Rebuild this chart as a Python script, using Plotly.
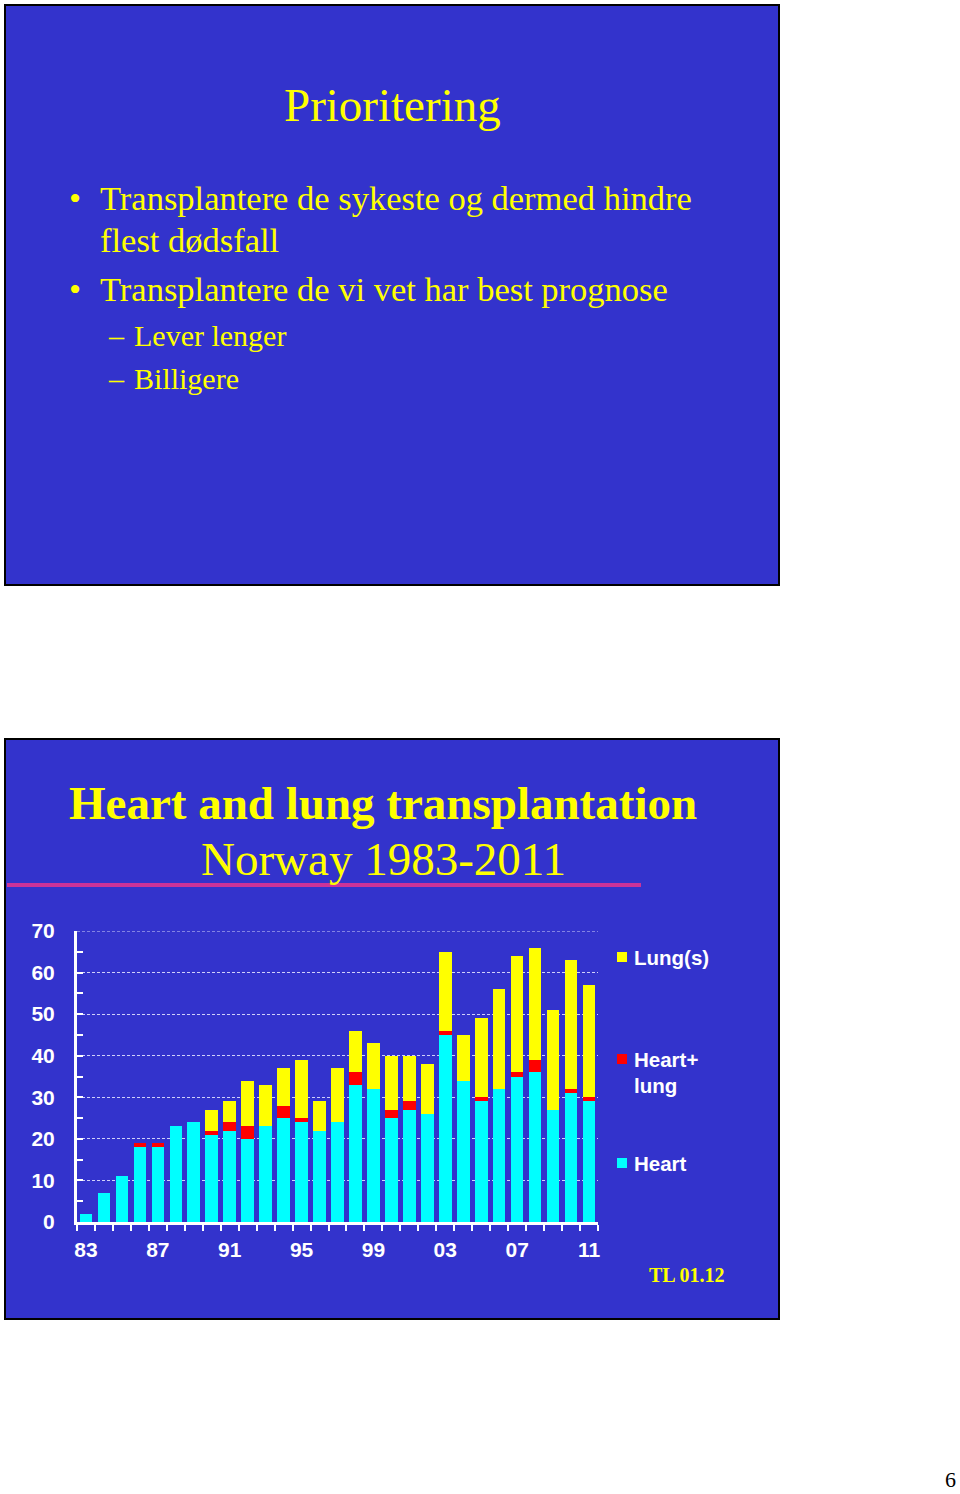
import plotly.graph_objects as go

W, H = 960, 1494

years = list(range(1983, 2012))
heart = [2, 7, 11, 18, 18, 23, 24, 21, 22, 20, 23, 25, 24, 22, 24, 33, 32, 25, 27, 26, 45, 34, 29, 32, 35, 36, 27, 31, 29]
heart_lung = [0, 0, 0, 1, 1, 0, 0, 1, 2, 3, 0, 3, 1, 0, 0, 3, 0, 2, 2, 0, 1, 0, 1, 0, 1, 3, 0, 1, 1]
lungs = [0, 0, 0, 0, 0, 0, 0, 5, 5, 11, 10, 9, 14, 7, 13, 10, 11, 13, 11, 12, 19, 11, 19, 24, 28, 27, 24, 31, 27]
tick_years = [1983, 1987, 1991, 1995, 1999, 2003, 2007, 2011]
tick_labels = ["83", "87", "91", "95", "99", "03", "07", "11"]
series_names = ["Heart", "Heart+<br>lung", "Lung(s)"]

SLIDE = "#3333CC"
YELLOW = "#FFFF00"
CYAN = "#00FFFF"
RED = "#FF0000"
GRID = "rgba(225,225,255,0.9)"


def px(x):
    return x / W


def py(y):
    return 1 - y / H


fig = go.Figure()
for vals, name, col in [(heart, series_names[0], CYAN), (heart_lung, series_names[1], RED), (lungs, series_names[2], YELLOW)]:
    fig.add_trace(go.Bar(x=years, y=vals, name=name, marker=dict(color=col, line=dict(width=0)), width=0.7))

shapes = [
    dict(type="rect", xref="paper", yref="paper", x0=px(5), x1=px(779), y0=py(585), y1=py(5),
         fillcolor=SLIDE, line=dict(color="black", width=2), layer="below"),
    dict(type="rect", xref="paper", yref="paper", x0=px(5), x1=px(779), y0=py(1319), y1=py(739),
         fillcolor=SLIDE, line=dict(color="black", width=2), layer="below"),
    dict(type="line", xref="paper", yref="paper", x0=px(7), x1=px(641), y0=py(885), y1=py(885),
         line=dict(color="#CC3399", width=4)),
    dict(type="line", xref="x domain", yref="y", x0=0, x1=1, y0=70, y1=70,
         line=dict(color=GRID, width=1, dash="3px,2px"), layer="below"),
]

serif = "Liberation Serif, Times New Roman, serif"
sans = "Liberation Sans, Arial, sans-serif"
ann = []


def text(t, x, y, size, color=YELLOW, family=serif, xanchor="left", weight="normal", yanchor="middle"):
    ann.append(dict(text=t, x=px(x), y=py(y), xref="paper", yref="paper", showarrow=False,
                    xanchor=xanchor, yanchor=yanchor,
                    font=dict(family=family, size=size, color=color, weight=weight)))


text("Prioritering", 392, 105, 47, xanchor="center")
text("•", 75, 198, 34.5, xanchor="center")
text("Transplantere de sykeste og dermed hindre", 98, 198, 34.5)
text("flest dødsfall", 98, 240, 34.5)
text("•", 75, 289, 34.5, xanchor="center")
text("Transplantere de vi vet har best prognose", 98, 289, 34.5)
text("–", 116, 335, 30, xanchor="center")
text("Lever lenger", 132, 335, 30)
text("–", 116, 378, 30, xanchor="center")
text("Billigere", 132, 378, 30)

text("Heart and lung transplantation", 383, 803, 47, xanchor="center", weight="bold")
text("Norway 1983-2011", 383, 859, 47, xanchor="center")
text("TL 01.12", 687, 1275, 20, xanchor="center", weight="bold")
text("6", 950, 1494, 22, color="black", xanchor="center", yanchor="bottom")

# legend (manual)
leg = [(957, "Lung(s)", YELLOW), (1059, "Heart+", RED), (1163, "Heart", CYAN)]
for y, t, col in leg:
    shapes.append(dict(type="rect", xref="paper", yref="paper", x0=px(617), x1=px(627),
                       y0=py(y + 5), y1=py(y - 5), fillcolor=col, line=dict(width=0)))
    text(t, 632, y, 20.5, color="white", family=sans, weight="bold")
text("lung", 632, 1085, 20.5, color="white", family=sans, weight="bold")

fig.update_layout(
    width=W, height=H, margin=dict(l=0, r=0, t=0, b=0, autoexpand=False),
    paper_bgcolor="white", plot_bgcolor="rgba(0,0,0,0)",
    barmode="stack", showlegend=False, bargap=0.3,
    shapes=shapes, annotations=ann,
    xaxis=dict(domain=[px(77), px(598)], range=[1982.5, 2011.5], automargin=False,
               tickvals=tick_years, ticktext=tick_labels, ticks="", showgrid=False,
               showline=True, linecolor="white", linewidth=3, zeroline=False,
               ticklabelstandoff=7,
               tickfont=dict(family=sans, size=21, color="white", weight="bold"),
               minor=dict(tickvals=[y - 0.5 for y in years] + [2011.5], ticks="outside",
                          ticklen=6, tickwidth=2, tickcolor="white", showgrid=False)),
    yaxis=dict(domain=[py(1222), py(931)], range=[0, 70], dtick=10, automargin=False,
               ticks="inside", ticklen=6, tickwidth=2, tickcolor="white",
               showline=True, linecolor="white", linewidth=3, zeroline=False,
               showgrid=True, gridcolor=GRID, gridwidth=1, griddash="3px,2px",
               ticklabelstandoff=15,
               tickfont=dict(family=sans, size=21, color="white", weight="bold"),
               minor=dict(dtick=5, ticks="inside", ticklen=6, tickwidth=2, tickcolor="white", showgrid=False)),
)

fig.write_html("out.html")
